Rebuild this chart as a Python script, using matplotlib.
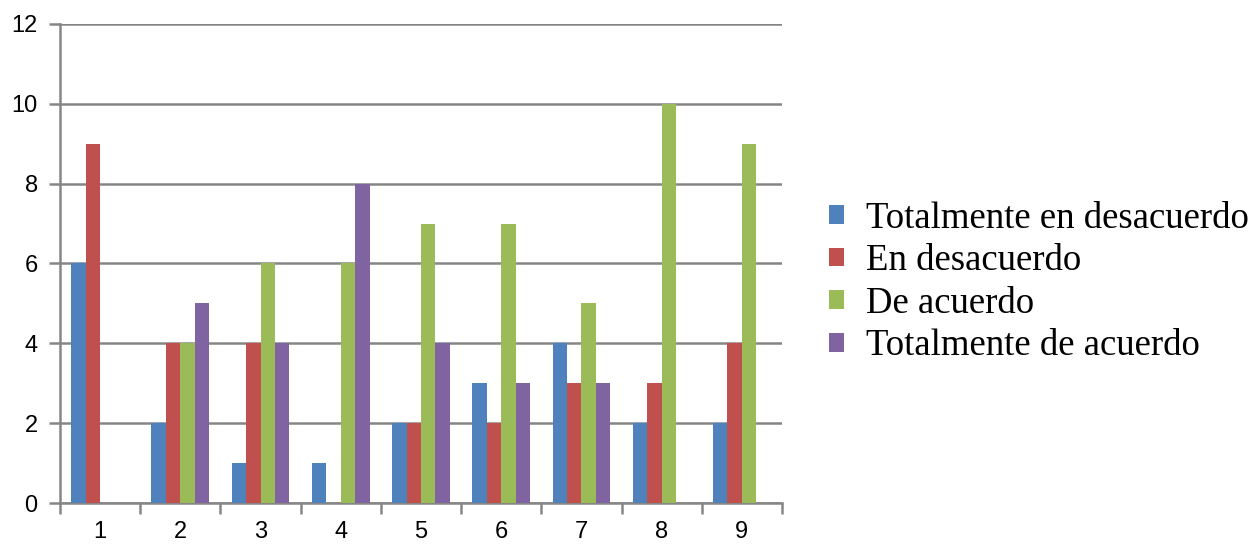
import numpy as np
import matplotlib.pyplot as plt

categories = ['1', '2', '3', '4', '5', '6', '7', '8', '9']
series_names = ['Totalmente en desacuerdo', 'En desacuerdo', 'De acuerdo', 'Totalmente de acuerdo']
tot_desacuerdo = [6, 2, 1, 1, 2, 3, 4, 2, 2]
en_desacuerdo = [9, 4, 4, 0, 2, 2, 3, 3, 4]
de_acuerdo = [0, 4, 6, 6, 7, 7, 5, 10, 9]
tot_acuerdo = [0, 5, 4, 8, 4, 3, 3, 0, 0]
colors = ['#4F81BD', '#C0504D', '#9BBB59', '#8064A2']

series = [tot_desacuerdo, en_desacuerdo, de_acuerdo, tot_acuerdo]

fig = plt.figure(figsize=(12.57, 5.47), dpi=100)
ax = fig.add_axes([0.0477, 0.0804, 0.5744, 0.876])

x = np.arange(1, len(categories) + 1)
w = 0.18
for i, (vals, name, c) in enumerate(zip(series, series_names, colors)):
    ax.bar(x + (i - 1.5) * w, vals, width=w, color=c, label=name, zorder=3)

grid_c = '#868686'
ax.set_ylim(0, 12)
ax.set_xlim(0.5, 9.5)
ax.set_yticks(range(0, 13, 2))
ax.yaxis.grid(True, color=grid_c, linewidth=1.8, zorder=0)
ax.set_xticks(x)
ax.set_xticklabels(categories)
ax.set_xticks(np.arange(0.5, 10, 1), minor=True)
ax.tick_params(axis='x', which='major', length=0, pad=13)
ax.tick_params(axis='x', which='minor', length=8, width=1.8, color=grid_c, direction='out')
ax.tick_params(axis='y', length=8, width=1.8, color=grid_c, pad=8)
for lab in ax.get_xticklabels() + ax.get_yticklabels():
    lab.set_fontfamily('Liberation Sans')
    lab.set_fontsize(17)

for s in ['top', 'right']:
    ax.spines[s].set_visible(False)
for s in ['left', 'bottom']:
    ax.spines[s].set_color(grid_c)
    ax.spines[s].set_linewidth(1.8)

fig.legend(loc='center left', bbox_to_anchor=(0.633, 0.484), frameon=False,
           prop={'family': 'Liberation Serif', 'size': 26.5},
           handlelength=0.4, handleheight=0.4, handletextpad=0.6, labelspacing=0.22)

fig.savefig('out.png', dpi=100)
